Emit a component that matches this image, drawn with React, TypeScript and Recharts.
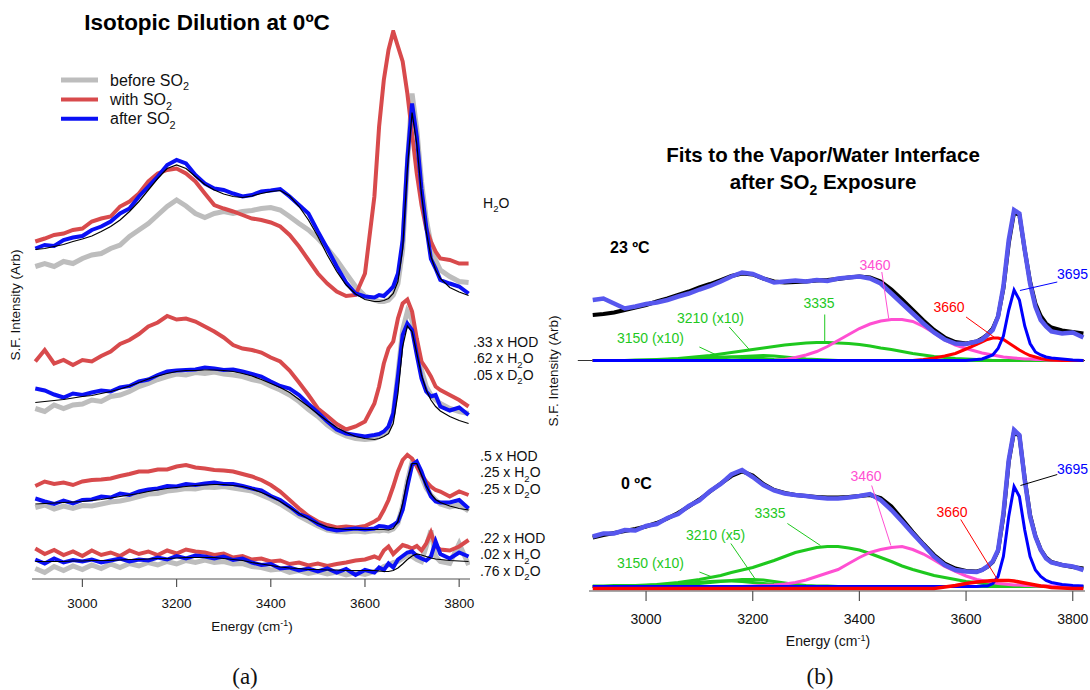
import React from 'react';
import { LineChart, Line, XAxis, YAxis, Legend, ReferenceLine } from 'recharts';

// shared energy grid (cm-1) for both panels, finer around the free-OH peak
const energy = [
  2900, 2920, 2940, 2960, 2980, 3000, 3020, 3040, 3060, 3080, 3100, 3120, 3140, 3160, 3180, 3200,
  3220, 3240, 3260, 3280, 3300, 3320, 3340, 3360, 3380, 3400, 3420, 3440, 3460, 3480, 3500, 3520,
  3540, 3560, 3580, 3600, 3620, 3630, 3640, 3650, 3660, 3670, 3680, 3690, 3700, 3710, 3720, 3730,
  3740, 3750, 3760, 3780, 3800, 3820,
];
const energyTicks = [3000, 3200, 3400, 3600, 3800];

// ---- panel (a): isotopic dilution, offset spectra ----
const h2oBefore = [
  62.5, 63.1, 62.5, 63.5, 63.1, 64.1, 64.8, 65.1, 66.1, 66.8, 68.5, 69.8, 71.1, 72.8, 74.5, 75.8,
  74.6, 73.1, 72.3, 73.1, 73.5, 73.1, 73.5, 73.7, 74.1, 74.3, 73.8, 72.5, 71.1, 69.8, 68.1, 66.1,
  63.8, 61.1, 58.5, 56.6, 55.8, 55.5, 55.5, 55.8, 56.8, 59.1, 65.8, 83.0, 97.1, 90.0, 79.5, 72.0,
  67.0, 63.8, 61.8, 60.5, 59.5, 59.3,
];
const h2oWith = [
  67.5, 68.1, 68.8, 69.1, 69.8, 70.1, 71.5, 72.1, 72.5, 74.5, 75.5, 77.1, 79.5, 81.1, 81.8, 82.1,
  81.1, 79.5, 77.1, 74.8, 74.1, 73.5, 72.8, 72.1, 71.8, 71.3, 70.5, 68.8, 66.5, 63.8, 61.1, 59.1,
  57.5, 56.6, 56.8, 61.1, 76.5, 90.5, 99.8, 105.8, 109.5, 106.5, 103.5, 97.1, 89.1, 81.1, 74.8, 70.1,
  67.5, 65.5, 64.1, 63.8, 63.1, 63.1,
];
const h2oAfter = [
  66.1, 66.8, 66.6, 67.8, 68.3, 68.6, 69.8, 70.5, 71.5, 73.1, 74.1, 76.5, 78.5, 80.5, 82.8, 83.8,
  83.1, 80.8, 79.1, 78.1, 77.8, 77.1, 76.5, 76.8, 77.5, 77.7, 78.0, 76.5, 74.8, 73.1, 69.5, 66.1,
  62.5, 59.3, 57.1, 56.5, 56.3, 56.8, 56.6, 57.5, 58.5, 61.1, 67.8, 84.0, 95.1, 88.5, 78.0, 70.5,
  64.0, 62.1, 59.8, 59.1, 58.5, 57.1,
];
const h2oFit = [
  65.9, 66.1, 66.5, 66.9, 67.5, 68.0, 68.6, 69.5, 70.5, 71.8, 73.5, 75.5, 77.8, 80.1, 82.1, 82.8,
  82.1, 80.5, 78.9, 77.8, 77.0, 76.5, 76.3, 76.6, 77.1, 77.5, 77.7, 76.6, 74.5, 71.8, 68.5, 64.8,
  61.5, 58.8, 57.0, 55.9, 55.5, 55.5, 55.7, 56.1, 57.1, 59.5, 66.0, 82.0, 93.3, 87.0, 77.0, 69.5,
  64.5, 61.8, 60.1, 58.3, 57.4, 56.7,
];

const hod33Before = [
  34.1, 33.5, 34.8, 34.1, 34.8, 35.0, 35.8, 35.5, 36.5, 36.8, 37.5, 38.5, 39.1, 39.9, 40.5, 41.0,
  40.8, 41.3, 41.1, 41.4, 41.0, 40.8, 40.5, 39.9, 39.5, 38.6, 37.8, 36.8, 35.5, 33.9, 32.5, 30.8,
  29.5, 28.6, 28.1, 27.9, 28.1, 28.5, 29.0, 30.1, 33.1, 41.1, 49.8, 53.5, 51.8, 46.5, 41.8, 38.5,
  36.8, 35.8, 35.1, 34.1, 33.5, 33.1,
];
const hod33With = [
  43.5, 45.8, 43.1, 43.8, 42.8, 43.8, 43.5, 44.6, 45.5, 47.0, 47.8, 49.0, 50.5, 51.3, 52.6, 51.9,
  52.1, 51.5, 50.5, 49.5, 48.3, 46.8, 46.1, 45.8, 45.3, 44.3, 43.5, 41.7, 39.3, 36.8, 34.1, 32.6,
  31.0, 29.9, 30.5, 31.5, 35.1, 38.5, 43.1, 46.1, 47.5, 52.1, 55.1, 55.9, 53.5, 48.1, 43.5, 42.1,
  40.5, 38.5, 37.8, 36.8, 35.8, 34.5,
];
const hod33After = [
  38.1, 37.7, 36.9, 36.3, 37.1, 36.8, 37.3, 37.7, 37.5, 38.3, 38.6, 39.5, 39.9, 40.8, 41.5, 41.7,
  41.8, 41.9, 42.3, 42.1, 41.8, 41.9, 41.5, 41.0, 40.5, 39.5, 38.6, 38.1, 36.8, 35.0, 33.3, 31.5,
  29.9, 29.1, 28.8, 28.5, 28.8, 29.0, 29.5, 30.5, 33.1, 40.5, 48.8, 51.1, 49.8, 44.8, 40.1, 37.5,
  36.5, 36.8, 34.5, 33.7, 34.3, 32.8,
];
const hod33Fit = [
  35.3, 35.5, 35.7, 35.9, 36.2, 36.5, 36.7, 37.1, 37.5, 38.0, 38.6, 39.3, 40.0, 40.6, 41.1, 41.5,
  41.7, 41.7, 41.8, 41.8, 41.7, 41.5, 41.1, 40.6, 39.9, 39.1, 38.3, 37.3, 35.9, 34.5, 33.0, 31.6,
  30.3, 29.3, 28.5, 28.1, 27.9, 28.1, 28.5, 29.1, 31.1, 37.1, 46.5, 50.6, 49.5, 45.1, 40.8, 37.8,
  35.8, 34.5, 33.6, 32.5, 31.7, 31.1,
];

const hod5Before = [
  14.3, 14.8, 14.0, 14.6, 14.1, 14.7, 14.6, 15.0, 15.4, 15.6, 16.0, 16.5, 17.0, 17.1, 17.6, 17.8,
  18.1, 18.0, 18.4, 18.3, 18.5, 18.2, 17.9, 17.6, 16.8, 16.0, 15.0, 13.8, 12.6, 11.6, 10.6, 9.8,
  9.5, 9.4, 9.6, 9.4, 9.7, 9.6, 9.8, 9.6, 10.0, 11.2, 14.6, 19.6, 23.4, 23.0, 20.5, 18.2,
  16.8, 15.8, 15.0, 14.4, 14.8, 13.6,
];
const hod5With = [
  18.6, 19.5, 19.0, 19.3, 18.8, 19.5, 19.8, 19.9, 20.1, 20.6, 21.0, 21.5, 21.5, 21.9, 21.9, 22.5,
  22.8, 22.3, 22.1, 21.8, 21.7, 21.5, 21.0, 20.5, 19.8, 18.8, 17.5, 15.8, 14.1, 12.6, 11.5, 10.8,
  10.3, 10.5, 10.3, 10.6, 11.5, 12.1, 13.8, 15.8, 18.5, 21.5, 23.8, 24.8, 24.1, 22.5, 20.8, 19.5,
  18.5, 17.8, 17.5, 16.5, 17.5, 16.8,
];
const hod5After = [
  16.1, 15.5, 15.0, 15.7, 15.1, 15.8, 15.9, 16.5, 16.3, 17.1, 16.8, 17.5, 17.9, 18.1, 18.6, 18.5,
  19.0, 18.8, 19.1, 19.3, 19.0, 19.0, 18.6, 18.1, 17.7, 16.6, 15.8, 14.5, 13.0, 12.3, 11.0, 10.1,
  9.7, 9.9, 10.1, 9.9, 10.1, 10.6, 10.5, 10.3, 10.8, 11.5, 13.8, 18.5, 22.8, 23.5, 21.5, 18.8,
  16.5, 15.5, 15.3, 15.3, 15.8, 14.1,
];
const hod5Fit = [
  15.0, 15.1, 15.2, 15.3, 15.4, 15.5, 15.7, 15.9, 16.2, 16.5, 16.8, 17.1, 17.5, 17.8, 18.1, 18.3,
  18.5, 18.7, 18.8, 18.9, 18.9, 18.7, 18.5, 18.0, 17.3, 16.5, 15.5, 14.3, 13.1, 12.0, 11.1, 10.4,
  10.1, 9.9, 9.9, 9.9, 9.9, 9.9, 9.9, 9.8, 10.1, 11.5, 15.1, 19.8, 23.1, 23.1, 20.8, 18.6,
  17.0, 15.9, 15.3, 14.6, 14.1, 13.8,
];

const hod22Before = [
  2.1, 1.3, 2.5, 1.7, 2.6, 1.9, 2.8, 2.1, 3.0, 2.3, 3.1, 2.6, 3.3, 2.8, 3.5, 3.0,
  3.7, 3.3, 3.8, 3.3, 3.5, 3.0, 3.1, 2.5, 2.3, 1.8, 2.0, 1.3, 1.7, 1.1, 1.5, 1.0,
  1.4, 0.8, 1.3, 0.9, 1.5, 1.9, 2.5, 2.8, 3.3, 3.5, 4.1, 4.8, 4.5, 3.9, 3.5, 6.5,
  9.7, 4.5, 3.5, 3.1, 7.1, 2.8,
];
const hod22With = [
  6.1, 5.0, 5.8, 4.8, 5.5, 4.6, 5.7, 4.8, 5.3, 4.6, 5.7, 5.0, 5.5, 4.8, 5.7, 5.1,
  5.9, 5.5, 5.3, 4.8, 5.1, 4.3, 4.6, 3.9, 4.1, 3.5, 3.7, 3.0, 3.3, 2.7, 3.1, 2.6,
  3.0, 3.3, 3.7, 3.9, 4.5, 4.1, 5.7, 6.5, 5.0, 5.9, 6.8, 6.5, 6.1, 6.6, 5.7, 7.1,
  9.3, 6.5, 5.9, 5.7, 6.5, 7.8,
];
const hod22After = [
  3.9, 3.1, 4.1, 3.3, 3.8, 3.5, 3.9, 3.3, 3.7, 4.1, 3.5, 3.9, 3.7, 4.3, 3.9, 4.6,
  4.1, 4.7, 4.5, 4.1, 4.5, 3.8, 4.1, 3.3, 2.8, 3.0, 2.1, 2.3, 1.7, 2.1, 1.5, 2.1,
  1.3, 2.0, 0.8, 1.8, 1.3, 2.3, 1.8, 3.1, 2.3, 3.9, 4.6, 5.3, 5.5, 4.6, 4.1, 3.7,
  4.5, 7.5, 5.0, 4.1, 5.3, 4.5,
];
const hod22Fit = [
  3.5, 3.5, 3.5, 3.5, 3.6, 3.6, 3.7, 3.7, 3.7, 3.8, 3.9, 3.9, 4.0, 4.1, 4.1, 4.2,
  4.3, 4.3, 4.3, 4.3, 4.1, 3.9, 3.7, 3.3, 3.0, 2.7, 2.4, 2.2, 2.1, 1.9, 1.9, 1.8,
  1.8, 1.7, 1.7, 1.7, 1.7, 1.6, 1.5, 1.5, 1.7, 2.2, 3.0, 3.9, 4.6, 5.0, 4.8, 4.5,
  4.2, 4.0, 3.9, 3.7, 3.6, 3.5,
];

// ---- panel (b): fits at 23 C (upper, offset) and 0 C (lower) ----
const warmData = [
  58.2, 58.5, 57.5, 56.5, 56.9, 57.4, 57.7, 58.2, 58.9, 59.5, 60.3, 61.0, 61.9, 62.9, 63.7, 63.4,
  62.5, 61.7, 61.9, 62.1, 61.9, 62.2, 62.0, 62.5, 62.7, 62.9, 62.5, 61.5, 59.5, 57.5, 55.5, 53.5,
  51.7, 50.3, 49.5, 49.4, 49.9, 50.3, 51.2, 52.2, 54.9, 60.9, 70.2, 76.2, 75.5, 68.2, 61.5, 56.9,
  54.2, 52.9, 51.9, 51.5, 51.7, 50.7,
];
const warmFit = [
  55.2, 55.4, 55.7, 56.2, 56.7, 57.2, 57.9, 58.5, 59.2, 59.9, 60.7, 61.4, 62.2, 63.0, 63.5, 63.3,
  62.5, 61.9, 61.7, 61.8, 61.9, 62.1, 62.2, 62.4, 62.7, 62.9, 62.7, 61.9, 60.3, 58.3, 56.2, 54.1,
  52.2, 50.7, 49.8, 49.5, 49.9, 50.5, 51.3, 52.5, 54.9, 60.5, 69.5, 75.7, 75.2, 68.2, 61.9, 57.5,
  55.0, 53.5, 52.7, 52.1, 51.8, 51.5,
];
const warm3150 = [
  46.1, 46.1, 46.1, 46.1, 46.1, 46.2, 46.2, 46.3, 46.4, 46.5, 46.6, 46.7, 46.8, 46.8, 46.7, 46.6,
  46.5, 46.3, 46.2, 46.1, 46.1, 46.1, 46.1, 46.1, 46.1, 46.1, 46.1, 46.1, 46.1, 46.1, 46.1, 46.1,
  46.1, 46.1, 46.1, 46.1, 46.1, 46.1, 46.1, 46.1, 46.1, 46.1, 46.1, 46.1, 46.1, 46.1, 46.1, 46.1,
  46.1, 46.1, 46.1, 46.1, 46.1, 46.1,
];
const warm3210 = [
  46.1, 46.1, 46.1, 46.1, 46.1, 46.1, 46.1, 46.1, 46.1, 46.2, 46.3, 46.4, 46.6, 46.8, 46.9, 47.0,
  47.1, 47.0, 46.8, 46.6, 46.4, 46.3, 46.2, 46.1, 46.1, 46.1, 46.1, 46.1, 46.1, 46.1, 46.1, 46.1,
  46.1, 46.1, 46.1, 46.1, 46.1, 46.1, 46.1, 46.1, 46.1, 46.1, 46.1, 46.1, 46.1, 46.1, 46.1, 46.1,
  46.1, 46.1, 46.1, 46.1, 46.1, 46.1,
];
const warm3335 = [
  46.1, 46.1, 46.1, 46.1, 46.2, 46.2, 46.3, 46.4, 46.5, 46.7, 46.9, 47.1, 47.4, 47.7, 48.0, 48.3,
  48.6, 48.9, 49.2, 49.4, 49.6, 49.7, 49.7, 49.6, 49.5, 49.3, 49.0, 48.6, 48.3, 47.9, 47.5, 47.2,
  46.9, 46.7, 46.5, 46.4, 46.3, 46.2, 46.2, 46.1, 46.1, 46.1, 46.1, 46.1, 46.1, 46.1, 46.1, 46.1,
  46.1, 46.1, 46.1, 46.1, 46.1, 46.1,
];
const warm3460 = [
  46.1, 46.1, 46.1, 46.1, 46.1, 46.1, 46.1, 46.1, 46.1, 46.1, 46.1, 46.1, 46.1, 46.1, 46.1, 46.1,
  46.1, 46.1, 46.3, 46.7, 47.2, 47.9, 48.9, 50.1, 51.3, 52.5, 53.4, 54.0, 54.3, 54.3, 53.9, 52.9,
  51.6, 50.2, 49.2, 48.5, 47.9, 47.6, 47.4, 47.2, 47.0, 46.8, 46.7, 46.6, 46.5, 46.4, 46.4, 46.3,
  46.3, 46.2, 46.2, 46.1, 46.1, 46.1,
];
const warm3660 = [
  46.1, 46.1, 46.1, 46.1, 46.1, 46.1, 46.1, 46.1, 46.1, 46.1, 46.1, 46.1, 46.1, 46.1, 46.1, 46.1,
  46.1, 46.1, 46.1, 46.1, 46.1, 46.1, 46.1, 46.1, 46.1, 46.1, 46.1, 46.1, 46.1, 46.1, 46.1, 46.3,
  46.6, 47.0, 47.5, 48.4, 49.3, 49.8, 50.3, 50.6, 50.6, 50.3, 49.6, 48.9, 48.2, 47.6, 47.1, 46.8,
  46.5, 46.3, 46.2, 46.1, 46.1, 46.1,
];
const warm3695 = [
  46.1, 46.1, 46.1, 46.1, 46.1, 46.1, 46.1, 46.1, 46.1, 46.1, 46.1, 46.1, 46.1, 46.1, 46.1, 46.1,
  46.1, 46.1, 46.1, 46.1, 46.1, 46.1, 46.1, 46.1, 46.1, 46.1, 46.1, 46.1, 46.1, 46.1, 46.1, 46.1,
  46.1, 46.1, 46.1, 46.1, 46.3, 46.4, 46.8, 47.2, 48.5, 51.0, 56.2, 60.2, 58.2, 53.0, 49.5, 47.8,
  47.2, 46.8, 46.6, 46.4, 46.2, 46.1,
];
const warmBaseline = 46.1;

const coldData = [
  10.9, 11.5, 11.5, 12.2, 12.1, 13.0, 13.4, 14.6, 15.4, 17.0, 18.1, 20.0, 21.4, 23.3, 24.2, 22.8,
  21.2, 20.1, 19.5, 19.2, 19.0, 18.7, 18.5, 18.5, 18.7, 19.0, 19.4, 18.2, 16.2, 13.9, 11.5, 9.2,
  6.9, 5.2, 4.2, 3.9, 3.8, 4.2, 4.9, 5.9, 8.2, 15.5, 26.2, 32.2, 31.2, 22.2, 14.9, 10.9,
  8.2, 6.5, 5.7, 5.2, 4.9, 4.2,
];
const coldFit = [
  10.7, 11.2, 11.6, 12.0, 12.4, 12.9, 13.6, 14.5, 15.6, 16.9, 18.3, 19.9, 21.5, 23.0, 23.9, 23.1,
  21.4, 20.2, 19.6, 19.2, 19.0, 18.8, 18.7, 18.7, 18.8, 19.0, 19.2, 18.6, 16.9, 14.4, 11.8, 9.4,
  7.2, 5.5, 4.5, 4.0, 3.9, 4.2, 4.8, 5.8, 8.0, 15.0, 25.8, 31.9, 31.0, 22.5, 15.2, 11.0,
  8.3, 6.7, 5.8, 5.2, 4.8, 4.5,
];
const cold3150 = [
  0.9, 0.9, 0.9, 0.9, 1.0, 1.1, 1.2, 1.3, 1.45, 1.6, 1.75, 1.9, 2.0, 2.0, 1.9, 1.7,
  1.5, 1.3, 1.15, 1.0, 0.95, 0.9, 0.9, 0.9, 0.9, 0.9, 0.9, 0.9, 0.9, 0.9, 0.9, 0.9,
  0.9, 0.9, 0.9, 0.9, 0.9, 0.9, 0.9, 0.9, 0.9, 0.9, 0.9, 0.9, 0.9, 0.9, 0.9, 0.9,
  0.9, 0.9, 0.9, 0.9, 0.9, 0.9,
];
const cold3210 = [
  0.9, 0.9, 0.9, 0.9, 0.9, 0.9, 0.9, 1.0, 1.15, 1.3, 1.5, 1.7, 1.9, 2.1, 2.3, 2.3,
  2.2, 1.9, 1.6, 1.3, 1.1, 1.0, 1.0, 0.9, 0.9, 0.9, 0.9, 0.9, 0.9, 0.9, 0.9, 0.9,
  0.9, 0.9, 0.9, 0.9, 0.9, 0.9, 0.9, 0.9, 0.9, 0.9, 0.9, 0.9, 0.9, 0.9, 0.9, 0.9,
  0.9, 0.9, 0.9, 0.9, 0.9, 0.9,
];
const cold3335 = [
  1.0, 1.0, 1.1, 1.1, 1.1, 1.2, 1.3, 1.5, 1.7, 2.0, 2.3, 2.7, 3.1, 3.7, 4.2, 4.7,
  5.4, 6.1, 6.9, 7.7, 8.2, 8.7, 8.9, 8.9, 8.6, 8.2, 7.5, 6.7, 5.9, 5.0, 4.3, 3.7,
  3.1, 2.7, 2.3, 1.9, 1.7, 1.55, 1.4, 1.3, 1.2, 1.15, 1.1, 1.05, 1.0, 1.0, 1.0, 0.95,
  0.95, 0.9, 0.9, 0.8, 0.75, 0.7,
];
const cold3460 = [
  0.9, 0.9, 0.9, 0.9, 0.9, 0.9, 0.9, 0.9, 0.9, 0.9, 0.9, 0.9, 0.9, 0.9, 0.9, 1.0,
  1.1, 1.2, 1.4, 1.7, 2.2, 2.9, 3.6, 4.3, 5.5, 6.7, 7.7, 8.3, 8.7, 8.9, 8.3, 7.4,
  6.2, 4.9, 3.9, 3.0, 2.3, 2.1, 1.9, 1.7, 1.5, 1.4, 1.3, 1.2, 1.2, 1.1, 1.1, 1.0,
  1.0, 1.0, 1.0, 0.9, 0.9, 0.9,
];
const cold3660 = [
  0.5, 0.5, 0.5, 0.5, 0.5, 0.5, 0.5, 0.5, 0.5, 0.5, 0.5, 0.5, 0.5, 0.5, 0.5, 0.5,
  0.5, 0.5, 0.5, 0.5, 0.5, 0.5, 0.5, 0.5, 0.5, 0.5, 0.5, 0.5, 0.5, 0.5, 0.5, 0.5,
  0.5, 0.8, 1.1, 1.5, 1.8, 1.9, 2.0, 2.1, 2.1, 2.1, 2.1, 2.0, 1.8, 1.6, 1.4, 1.2,
  1.0, 0.9, 0.7, 0.6, 0.5, 0.5,
];
const cold3695 = [
  0.9, 0.9, 0.9, 0.9, 0.9, 0.9, 0.9, 0.9, 0.9, 0.9, 0.9, 0.9, 0.9, 0.9, 0.9, 0.9,
  0.9, 0.9, 0.9, 0.9, 0.9, 0.9, 0.9, 0.9, 0.9, 0.9, 0.9, 0.9, 0.9, 0.9, 0.9, 0.9,
  0.9, 0.9, 0.9, 0.9, 0.9, 1.0, 1.0, 1.5, 2.9, 6.9, 14.9, 20.9, 18.9, 12.2, 6.9, 4.2,
  2.9, 2.1, 1.7, 1.3, 1.1, 1.0,
];

const FONT = '"Liberation Sans", Arial, Helvetica, sans-serif';
const GRAY = '#bdbdbd';
const RED_A = '#d84a4c';
const BLUE_A = '#0a10f5';
const DATA_B = '#5757ee';
const GREEN = '#1ec81e';
const MAGENTA = '#ff4fd2';
const RED = '#ff0000';
const BLUE = '#0000ff';
const AXIS = '#555';

const seriesA = [
  { key: 'h2oBefore', values: h2oBefore, color: GRAY, width: 5 },
  { key: 'h2oWith', values: h2oWith, color: RED_A, width: 4 },
  { key: 'h2oAfter', values: h2oAfter, color: BLUE_A, width: 4 },
  { key: 'h2oFit', values: h2oFit, color: '#000', width: 1.2 },
  { key: 'hod33Before', values: hod33Before, color: GRAY, width: 5 },
  { key: 'hod33With', values: hod33With, color: RED_A, width: 4 },
  { key: 'hod33After', values: hod33After, color: BLUE_A, width: 4 },
  { key: 'hod33Fit', values: hod33Fit, color: '#000', width: 1.2 },
  { key: 'hod5Before', values: hod5Before, color: GRAY, width: 5 },
  { key: 'hod5With', values: hod5With, color: RED_A, width: 4 },
  { key: 'hod5After', values: hod5After, color: BLUE_A, width: 4 },
  { key: 'hod5Fit', values: hod5Fit, color: '#000', width: 1.2 },
  { key: 'hod22Before', values: hod22Before, color: GRAY, width: 5 },
  { key: 'hod22With', values: hod22With, color: RED_A, width: 4 },
  { key: 'hod22After', values: hod22After, color: BLUE_A, width: 4 },
  { key: 'hod22Fit', values: hod22Fit, color: '#000', width: 1.2 },
];

const seriesB = [
  { key: 'warm3150', values: warm3150, color: GREEN, width: 3 },
  { key: 'warm3210', values: warm3210, color: GREEN, width: 3 },
  { key: 'warm3335', values: warm3335, color: GREEN, width: 3 },
  { key: 'warm3460', values: warm3460, color: MAGENTA, width: 3 },
  { key: 'warm3660', values: warm3660, color: RED, width: 3 },
  { key: 'warm3695', values: warm3695, color: BLUE, width: 3 },
  { key: 'warmFit', values: warmFit, color: '#000', width: 4 },
  { key: 'warmData', values: warmData, color: DATA_B, width: 4.5 },
  { key: 'cold3150', values: cold3150, color: GREEN, width: 3 },
  { key: 'cold3210', values: cold3210, color: GREEN, width: 3 },
  { key: 'cold3335', values: cold3335, color: GREEN, width: 3 },
  { key: 'cold3460', values: cold3460, color: MAGENTA, width: 3 },
  { key: 'cold3695', values: cold3695, color: BLUE, width: 3 },
  { key: 'cold3660', values: cold3660, color: RED, width: 3.5 },
  { key: 'coldFit', values: coldFit, color: '#000', width: 4 },
  { key: 'coldData', values: coldData, color: DATA_B, width: 4.5 },
];

const rowsA = energy.map((e, i) => {
  const row: Record<string, number> = { e };
  seriesA.forEach((s) => (row[s.key] = s.values[i]));
  return row;
});
const rowsB = energy.map((e, i) => {
  const row: Record<string, number> = { e };
  seriesB.forEach((s) => (row[s.key] = s.values[i]));
  return row;
});

// leader lines from the peak labels to the fitted components (data coordinates)
const leadersB = [
  { color: BLUE, from: [3771, 61.8], to: [3701, 60.1] },
  { color: RED, from: [3600, 54.8], to: [3656, 50.5] },
  { color: MAGENTA, from: [3442, 63.8], to: [3455, 54.5] },
  { color: GREEN, from: [3335, 55.3], to: [3335, 49.8] },
  { color: GREEN, from: [3156, 52.8], to: [3196, 48.0] },
  { color: GREEN, from: [3100, 48.8], to: [3130, 47.3] },
  { color: '#000', from: [3771, 23.3], to: [3702, 21.1] },
  { color: RED, from: [3590, 14.3], to: [3660, 2.1] },
  { color: MAGENTA, from: [3423, 21.1], to: [3459, 9.1] },
  { color: GREEN, from: [3265, 13.5], to: [3327, 9.1] },
  { color: GREEN, from: [3159, 9.5], to: [3204, 2.5] },
  { color: GREEN, from: [3100, 3.8], to: [3124, 2.8] },
];

const peakLabels = [
  { text: '3695', x: 1057, y: 274, color: BLUE, anchor: 'start' },
  { text: '3660', x: 949, y: 307, color: RED, anchor: 'middle' },
  { text: '3460', x: 875, y: 265, color: MAGENTA, anchor: 'middle' },
  { text: '3335', x: 819, y: 303, color: GREEN, anchor: 'middle' },
  { text: '3210 (x10)', x: 677, y: 318, color: GREEN, anchor: 'start' },
  { text: '3150 (x10)', x: 617, y: 338, color: GREEN, anchor: 'start' },
  { text: '3695', x: 1057, y: 469, color: BLUE, anchor: 'start' },
  { text: '3660', x: 952, y: 512, color: RED, anchor: 'middle' },
  { text: '3460', x: 866, y: 476, color: MAGENTA, anchor: 'middle' },
  { text: '3335', x: 770, y: 513, color: GREEN, anchor: 'middle' },
  { text: '3210 (x5)', x: 686, y: 535, color: GREEN, anchor: 'start' },
  { text: '3150 (x10)', x: 617, y: 563, color: GREEN, anchor: 'start' },
];

const legendItems = [
  { name: 'before', color: GRAY, width: 5 },
  { name: 'with', color: RED_A, width: 4 },
  { name: 'after', color: BLUE_A, width: 4 },
];

const mixLabels = [
  { y: 342, lines: [['.33 x HOD'], ['.62 x H', '2', 'O'], ['.05 x D', '2', 'O']], x: 473 },
  { y: 456, lines: [['.5 x HOD'], ['.25 x H', '2', 'O'], ['.25 x D', '2', 'O']], x: 480 },
  { y: 538, lines: [['.22 x HOD'], ['.02 x H', '2', 'O'], ['.76 x D', '2', 'O']], x: 480 },
];

function Sub({ parts, size }: { parts: string[]; size: number }) {
  if (parts.length === 1) return <>{parts[0]}</>;
  return (
    <>
      {parts[0]}
      <tspan dy={size * 0.3} fontSize={size * 0.68}>
        {parts[1]}
      </tspan>
      <tspan dy={-size * 0.3}>{parts[2]}</tspan>
    </>
  );
}

function LegendBox() {
  return (
    <svg width={170} height={64} style={{ fontFamily: FONT }}>
      {legendItems.map((it, i) => (
        <g key={it.name} transform={`translate(0, ${12 + i * 19.4})`}>
          <line x1={6} x2={43} y1={0} y2={0} stroke={it.color} strokeWidth={it.width} />
          <text x={55} y={5.5} fontSize={16} fill="#111">
            <Sub parts={[`${it.name} SO`, '2', '']} size={16} />
          </text>
        </g>
      ))}
    </svg>
  );
}

function EnergyLabel({ x, y, size }: { x: number; y: number; size: number }) {
  return (
    <text x={x} y={y} fontSize={size} textAnchor="middle" dy="0.35em" fill="#111">
      Energy (cm
      <tspan dy={-size * 0.35} fontSize={size * 0.65}>
        -1
      </tspan>
      <tspan dy={size * 0.35}>)</tspan>
    </text>
  );
}

export default function App() {
  return (
    <div
      style={{
        position: 'absolute',
        left: 0,
        top: 0,
        width: 1090,
        height: 690,
        background: '#fff',
        fontFamily: FONT,
      }}
    >
      <div style={{ position: 'absolute', left: 0, top: 0 }}>
        <LineChart
          width={480}
          height={640}
          data={rowsA}
          margin={{ top: 30, right: 10, bottom: 31, left: 32 }}
        >
          <XAxis
            dataKey="e"
            type="number"
            domain={[2893, 3823]}
            ticks={energyTicks}
            allowDataOverflow
            height={30}
            tickSize={8}
            tickMargin={11}
            axisLine={{ stroke: AXIS, strokeWidth: 1.2 }}
            tickLine={{ stroke: AXIS, strokeWidth: 1.2 }}
            tick={{ fontSize: 13.5, fill: '#111', fontFamily: FONT }}
          />
          <YAxis
            type="number"
            domain={[0, 109.8]}
            allowDataOverflow
            width={0}
            tick={false}
            tickLine={false}
            axisLine={{ stroke: AXIS, strokeWidth: 1.4 }}
          />
          <Legend
            layout="horizontal"
            verticalAlign="middle"
            align="center"
            content={() => <LegendBox />}
            wrapperStyle={{ top: 68, left: 55, width: 170, height: 64 }}
          />
          {seriesA.map((s) => (
            <Line
              key={s.key}
              dataKey={s.key}
              stroke={s.color}
              strokeWidth={s.width}
              dot={false}
              activeDot={false}
              type="linear"
              isAnimationActive={false}
              legendType="none"
            />
          ))}
        </LineChart>
      </div>

      <div style={{ position: 'absolute', left: 560, top: 0 }}>
        <LineChart
          width={530}
          height={660}
          data={rowsB}
          margin={{ top: 136, right: 5, bottom: 39, left: 29 }}
        >
          <XAxis
            dataKey="e"
            type="number"
            domain={[2893, 3823]}
            ticks={energyTicks}
            allowDataOverflow
            height={30}
            tickSize={10}
            tickMargin={13}
            axisLine={{ stroke: AXIS, strokeWidth: 1.2 }}
            tickLine={{ stroke: AXIS, strokeWidth: 1.2 }}
            tick={{ fontSize: 14, fill: '#111', fontFamily: FONT }}
          />
          <YAxis
            type="number"
            domain={[0, 91]}
            allowDataOverflow
            width={0}
            tick={false}
            tickLine={false}
            axisLine={{ stroke: AXIS, strokeWidth: 1.4 }}
          />
          <ReferenceLine
            segment={[
              { x: 2872, y: warmBaseline },
              { x: 3823, y: warmBaseline },
            ]}
            stroke="#333"
            strokeWidth={1.2}
            ifOverflow="visible"
          />
          {seriesB.map((s) => (
            <Line
              key={s.key}
              dataKey={s.key}
              stroke={s.color}
              strokeWidth={s.width}
              dot={false}
              activeDot={false}
              type="linear"
              isAnimationActive={false}
            />
          ))}
          {leadersB.map((l, i) => (
            <ReferenceLine
              key={i}
              segment={[
                { x: l.from[0], y: l.from[1] },
                { x: l.to[0], y: l.to[1] },
              ]}
              stroke={l.color}
              strokeWidth={1}
              ifOverflow="visible"
            />
          ))}
        </LineChart>
      </div>

      <svg
        width={1090}
        height={690}
        style={{ position: 'absolute', left: 0, top: 0, pointerEvents: 'none', fontFamily: FONT }}
      >
        <text x={207} y={22} dy="0.35em" textAnchor="middle" fontSize={22.5} fontWeight="bold" fill="#000">
          Isotopic Dilution at 0ºC
        </text>
        <text transform="translate(15,305) rotate(-90)" textAnchor="middle" dy="0.35em" fontSize={13.5} fill="#111">
          S.F. Intensity (Arb)
        </text>
        <EnergyLabel x={252} y={626} size={13.5} />
        <text x={483} y={203} dy="0.35em" fontSize={14} fill="#111">
          <Sub parts={['H', '2', 'O']} size={14} />
        </text>
        {mixLabels.map((g) =>
          g.lines.map((ln, i) => (
            <text key={`${g.y}-${i}`} x={g.x} y={g.y + i * 16.5} dy="0.35em" fontSize={14} fill="#111">
              <Sub parts={ln} size={14} />
            </text>
          ))
        )}

        <text x={823} y={155} dy="0.35em" textAnchor="middle" fontSize={20.5} fontWeight="bold" fill="#000">
          Fits to the Vapor/Water Interface
        </text>
        <text x={823} y={182} dy="0.35em" textAnchor="middle" fontSize={20.5} fontWeight="bold" fill="#000">
          <Sub parts={['after SO', '2', ' Exposure']} size={20.5} />
        </text>
        <text x={610} y={247} dy="0.35em" fontSize={16} fontWeight="bold" fill="#000">
          23 ºC
        </text>
        <text x={621} y={483} dy="0.35em" fontSize={16} fontWeight="bold" fill="#000">
          0 ºC
        </text>
        <text transform="translate(553,371) rotate(-90)" textAnchor="middle" dy="0.35em" fontSize={13.5} fill="#111">
          S.F. Intensity (Arb)
        </text>
        <EnergyLabel x={828} y={641} size={14} />
        {peakLabels.map((p, i) => (
          <text
            key={i}
            x={p.x}
            y={p.y}
            dy="0.35em"
            textAnchor={p.anchor as 'start' | 'middle'}
            fontSize={14}
            fill={p.color}
          >
            {p.text}
          </text>
        ))}

        <text x={245} y={676} dy="0.35em" textAnchor="middle" fontSize={23} fontFamily='"Liberation Serif", "DejaVu Serif", serif' fill="#111">
          (a)
        </text>
        <text x={820} y={676} dy="0.35em" textAnchor="middle" fontSize={23} fontFamily='"Liberation Serif", "DejaVu Serif", serif' fill="#111">
          (b)
        </text>
      </svg>
    </div>
  );
}
